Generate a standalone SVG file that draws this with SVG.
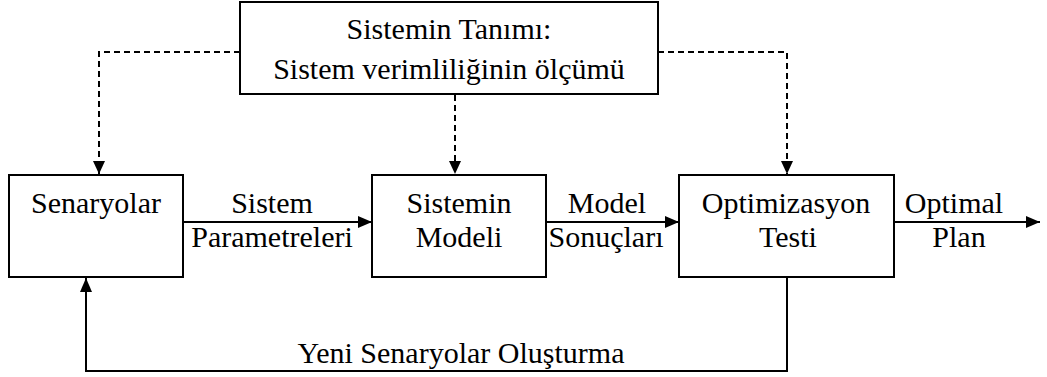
<svg xmlns="http://www.w3.org/2000/svg" width="1047" height="377" viewBox="0 0 1047 377">
<defs>
<style>
.box{fill:#fff;stroke:#000;stroke-width:2}
text{font-family:'Liberation Serif',serif;font-size:30px;fill:#000;text-anchor:middle}
.ln{fill:none;stroke:#000;stroke-width:2}
.dash{fill:none;stroke:#000;stroke-width:2;stroke-dasharray:6 4}
</style>
<marker id="ah" markerWidth="14" markerHeight="12" refX="14" refY="6" orient="auto" markerUnits="userSpaceOnUse">
<path d="M0,0 L14,6 L0,12 Z" fill="#000"/>
</marker>
<marker id="ahd" markerWidth="13" markerHeight="12" refX="13" refY="6" orient="auto" markerUnits="userSpaceOnUse">
<path d="M0,0 L13,6 L0,12 Z" fill="#000"/>
</marker>
</defs>
<g id="connectors">
<path class="dash" d="M240,52 H99 V174" marker-end="url(#ahd)"/>
<path class="dash" d="M455,95 V174" marker-end="url(#ahd)"/>
<path class="dash" d="M658,52 H787 V174" marker-end="url(#ahd)"/>
<path class="ln" d="M183,222 H372" marker-end="url(#ah)"/>
<path class="ln" d="M546,222 H679" marker-end="url(#ah)"/>
<path class="ln" d="M894,222 H1040" marker-end="url(#ah)"/>
<path class="ln" d="M787,277 V371 H86 V278" marker-end="url(#ah)"/>
<text x="272" y="213">Sistem</text>
<text x="272" y="247">Parametreleri</text>
<text x="607" y="213">Model</text>
<text x="606" y="247">Sonuçları</text>
<text x="954" y="213">Optimal</text>
<text x="959" y="247">Plan</text>
<text x="461" y="363">Yeni Senaryolar Oluşturma</text>
</g>
<g id="tanim">
<rect class="box" x="240" y="2" width="418" height="92"/>
<text x="449" y="39">Sistemin Tanımı:</text>
<text x="449" y="79">Sistem verimliliğinin ölçümü</text>
</g>
<g id="senaryolar">
<rect class="box" x="9" y="175" width="174" height="102"/>
<text x="96" y="213">Senaryolar</text>
</g>
<g id="model">
<rect class="box" x="372" y="175" width="174" height="102"/>
<text x="459" y="213">Sistemin</text>
<text x="459" y="247">Modeli</text>
</g>
<g id="optimizasyon">
<rect class="box" x="679" y="175" width="215" height="102"/>
<text x="786" y="213">Optimizasyon</text>
<text x="788" y="247">Testi</text>
</g>
</svg>
